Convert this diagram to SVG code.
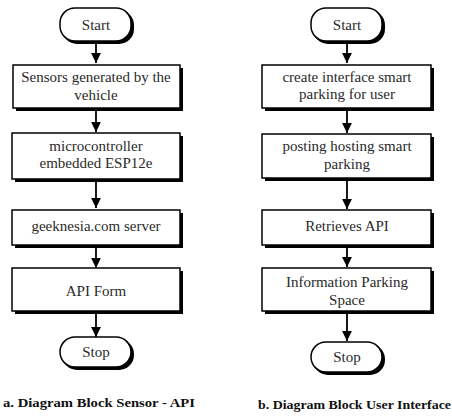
<svg xmlns="http://www.w3.org/2000/svg" width="452" height="419" viewBox="0 0 452 419">
<defs>
<style>
.bg{fill:#fff}
.sh{fill:#000}
.bx{fill:#fff;stroke:#000;stroke-width:1.5}
.t{font-size:15px;fill:#2a2a2a;text-anchor:middle}
.cap{font-size:13.5px;font-weight:bold;fill:#111}
.ln{stroke:#000;stroke-width:1.8;fill:none}
</style>
<marker id="ah" viewBox="0 0 10 10" refX="10" refY="5" markerWidth="5.5" markerHeight="6.5" markerUnits="strokeWidth" orient="auto">
<path d="M0,0 L10,5 L0,10 Z" fill="#000"/>
</marker>
</defs>
<rect class="bg" width="452" height="419"/>

<g id="connectors">
<line class="ln" x1="96" y1="43" x2="96" y2="63" marker-end="url(#ah)"/>
<line class="ln" x1="96" y1="111" x2="96" y2="132" marker-end="url(#ah)"/>
<line class="ln" x1="96" y1="182" x2="96" y2="208" marker-end="url(#ah)"/>
<line class="ln" x1="96" y1="248" x2="96" y2="268" marker-end="url(#ah)"/>
<line class="ln" x1="96" y1="314" x2="96" y2="337" marker-end="url(#ah)"/>
<line class="ln" x1="347" y1="43" x2="347" y2="63" marker-end="url(#ah)"/>
<line class="ln" x1="347" y1="111" x2="347" y2="133" marker-end="url(#ah)"/>
<line class="ln" x1="347" y1="181" x2="347" y2="209" marker-end="url(#ah)"/>
<line class="ln" x1="347" y1="248" x2="347" y2="267" marker-end="url(#ah)"/>
<line class="ln" x1="347" y1="314" x2="347" y2="341" marker-end="url(#ah)"/>
</g>

<g id="a-start">
<rect class="sh" x="62" y="10" width="72" height="34" rx="15"/>
<rect class="bx" x="60" y="8" width="71" height="33" rx="15"/>
<text class="t" font-family="Liberation Serif" x="96" y="30">Start</text>
</g>
<g id="a-sensors">
<rect class="sh" x="16" y="68" width="167" height="43"/>
<rect class="bx" x="13" y="65" width="167" height="43"/>
<text class="t" font-family="Liberation Serif" x="96" y="82">Sensors generated by the</text>
<text class="t" font-family="Liberation Serif" x="96" y="100">vehicle</text>
</g>
<g id="a-micro">
<rect class="sh" x="15" y="136" width="168" height="46"/>
<rect class="bx" x="12" y="133" width="168" height="46"/>
<text class="t" font-family="Liberation Serif" x="96" y="151">microcontroller</text>
<text class="t" font-family="Liberation Serif" x="96" y="168">embedded ESP12e</text>
</g>
<g id="a-server">
<rect class="sh" x="15" y="213" width="168" height="35"/>
<rect class="bx" x="12" y="210" width="168" height="35"/>
<text class="t" font-family="Liberation Serif" x="96" y="231">geeknesia.com server</text>
</g>
<g id="a-api">
<rect class="sh" x="15" y="271" width="168" height="43"/>
<rect class="bx" x="12" y="268" width="168" height="43"/>
<text class="t" font-family="Liberation Serif" x="96" y="296">API Form</text>
</g>
<g id="a-stop">
<rect class="sh" x="62" y="339" width="72" height="31" rx="15"/>
<rect class="bx" x="60" y="337" width="71" height="30" rx="15"/>
<text class="t" font-family="Liberation Serif" x="96" y="357">Stop</text>
</g>

<g id="b-start">
<rect class="sh" x="313" y="10" width="72" height="34" rx="15"/>
<rect class="bx" x="311" y="8" width="71" height="33" rx="15"/>
<text class="t" font-family="Liberation Serif" x="347" y="30">Start</text>
</g>
<g id="b-create">
<rect class="sh" x="265" y="68" width="169" height="43"/>
<rect class="bx" x="262" y="65" width="169" height="43"/>
<text class="t" font-family="Liberation Serif" x="347" y="82">create interface smart</text>
<text class="t" font-family="Liberation Serif" x="347" y="99">parking for user</text>
</g>
<g id="b-posting">
<rect class="sh" x="265" y="137" width="169" height="44"/>
<rect class="bx" x="262" y="134" width="169" height="44"/>
<text class="t" font-family="Liberation Serif" x="347" y="151">posting hosting smart</text>
<text class="t" font-family="Liberation Serif" x="347" y="169">parking</text>
</g>
<g id="b-retrieves">
<rect class="sh" x="265" y="213" width="169" height="35"/>
<rect class="bx" x="262" y="210" width="169" height="35"/>
<text class="t" font-family="Liberation Serif" x="347" y="231">Retrieves API</text>
</g>
<g id="b-info">
<rect class="sh" x="265" y="271" width="169" height="43"/>
<rect class="bx" x="262" y="268" width="169" height="43"/>
<text class="t" font-family="Liberation Serif" x="347" y="287">Information Parking</text>
<text class="t" font-family="Liberation Serif" x="347" y="305">Space</text>
</g>
<g id="b-stop">
<rect class="sh" x="313" y="344" width="72" height="31" rx="15"/>
<rect class="bx" x="311" y="342" width="71" height="30" rx="15"/>
<text class="t" font-family="Liberation Serif" x="347" y="362">Stop</text>
</g>

<text class="cap" font-family="Liberation Serif" x="3" y="407" textLength="192" lengthAdjust="spacingAndGlyphs">a. Diagram Block Sensor - API</text>
<text class="cap" font-family="Liberation Serif" x="258" y="409" textLength="193" lengthAdjust="spacingAndGlyphs">b. Diagram Block User Interface</text>
</svg>
